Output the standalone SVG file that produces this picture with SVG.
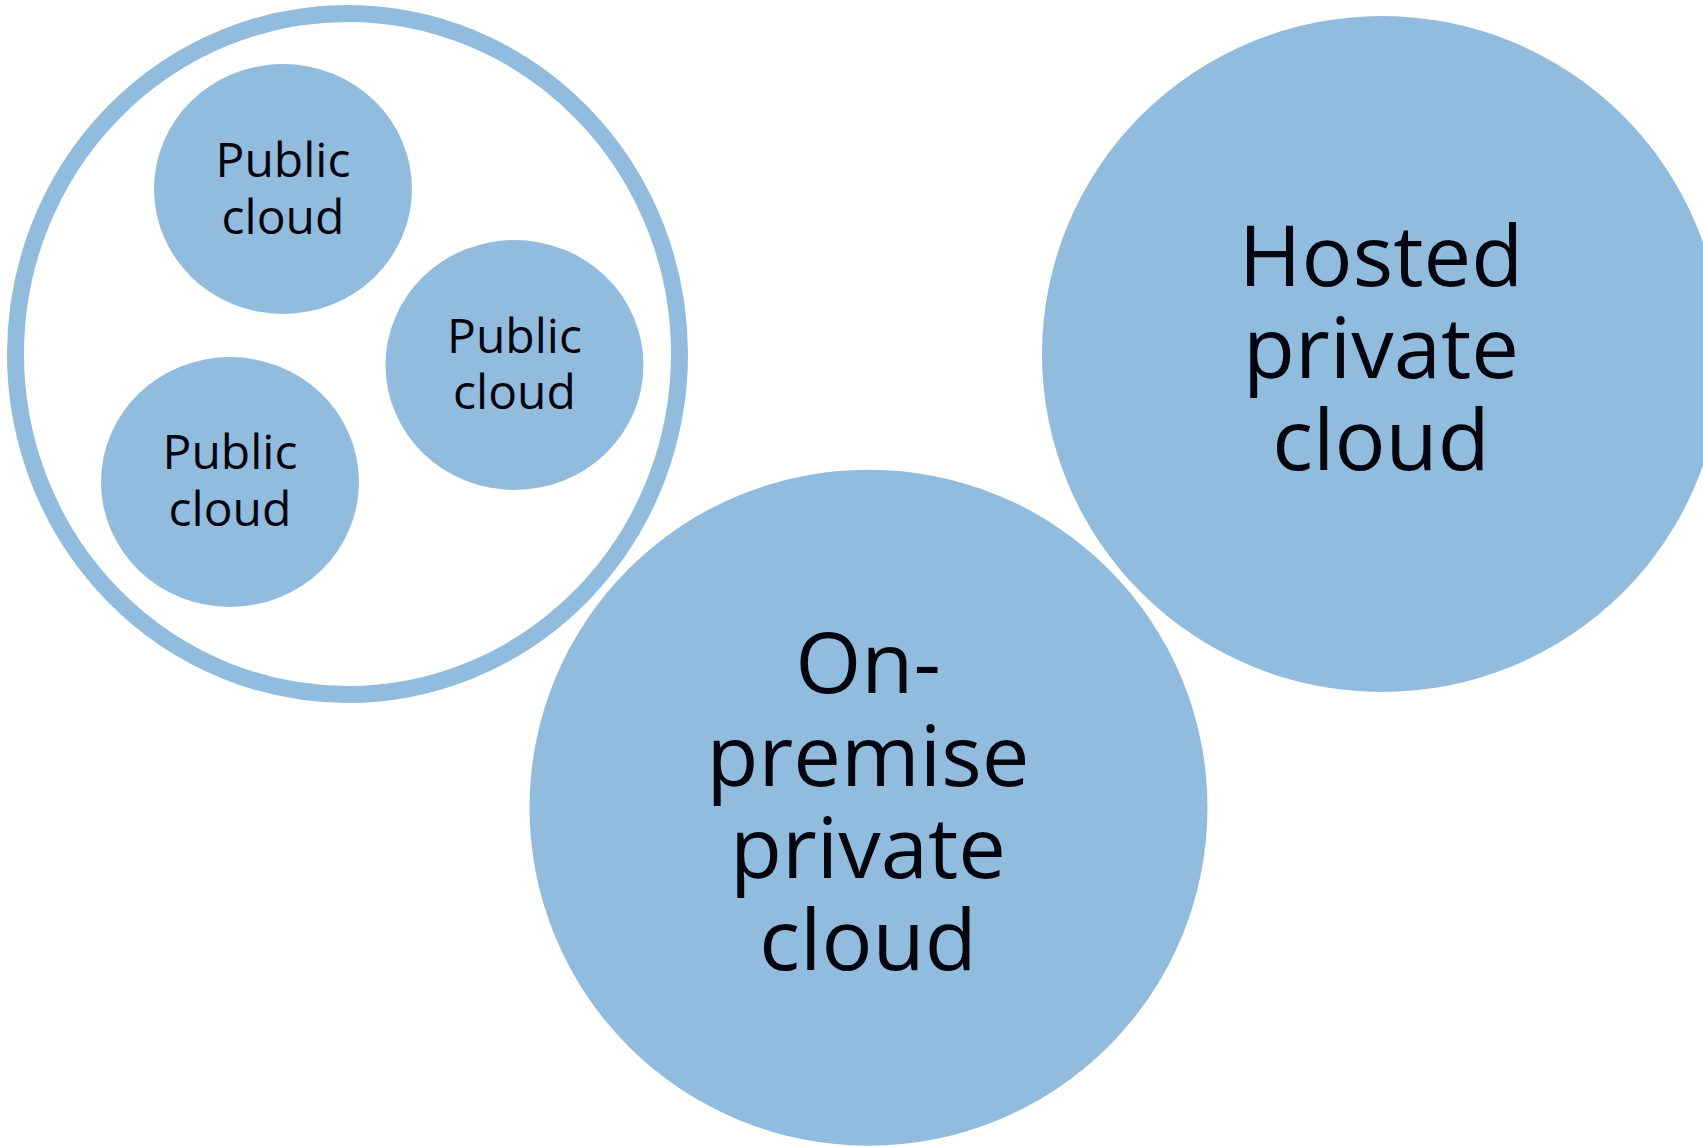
<svg xmlns="http://www.w3.org/2000/svg" width="1703" height="1147" viewBox="0 0 1703 1147">
<style>
.fill{fill:#92BCDE;}
.ring{fill:none;stroke:#92BCDE;stroke-width:17;}
.t{font-family:"Open Sans","Noto Sans","DejaVu Sans",sans-serif;fill:#05050F;text-anchor:middle;}
.big{font-size:85px;}
.small{font-size:48px;}
</style>
<rect x="0" y="0" width="1703" height="1147" fill="#FFFFFF"/>
<g id="public-group">
  <ellipse class="ring" cx="347.5" cy="354" rx="332" ry="340.5"/>
</g>
<g id="public-cloud-1">
  <ellipse class="fill" cx="283" cy="189" rx="129" ry="125"/>
  <text class="t small" x="283" y="177">Public</text>
  <text class="t small" x="283" y="234">cloud</text>
</g>
<g id="public-cloud-2">
  <ellipse class="fill" cx="514.5" cy="365" rx="129" ry="125"/>
  <text class="t small" x="514.5" y="353">Public</text>
  <text class="t small" x="514.5" y="409">cloud</text>
</g>
<g id="public-cloud-3">
  <ellipse class="fill" cx="230" cy="482" rx="129" ry="125"/>
  <text class="t small" x="230" y="469">Public</text>
  <text class="t small" x="230" y="526">cloud</text>
</g>
<g id="hosted-private-cloud">
  <ellipse class="fill" cx="1382" cy="354" rx="340" ry="338"/>
  <text class="t big" x="1381" y="286">Hosted</text>
  <text class="t big" x="1381" y="378">private</text>
  <text class="t big" x="1381" y="470">cloud</text>
</g>
<g id="on-premise-private-cloud">
  <ellipse class="fill" cx="868.5" cy="807.7" rx="339" ry="338"/>
  <text class="t big" x="868" y="693">On-</text>
  <text class="t big" x="868" y="786">premise</text>
  <text class="t big" x="868" y="878">private</text>
  <text class="t big" x="868" y="970">cloud</text>
</g>
<g id="connectors"></g>
</svg>
